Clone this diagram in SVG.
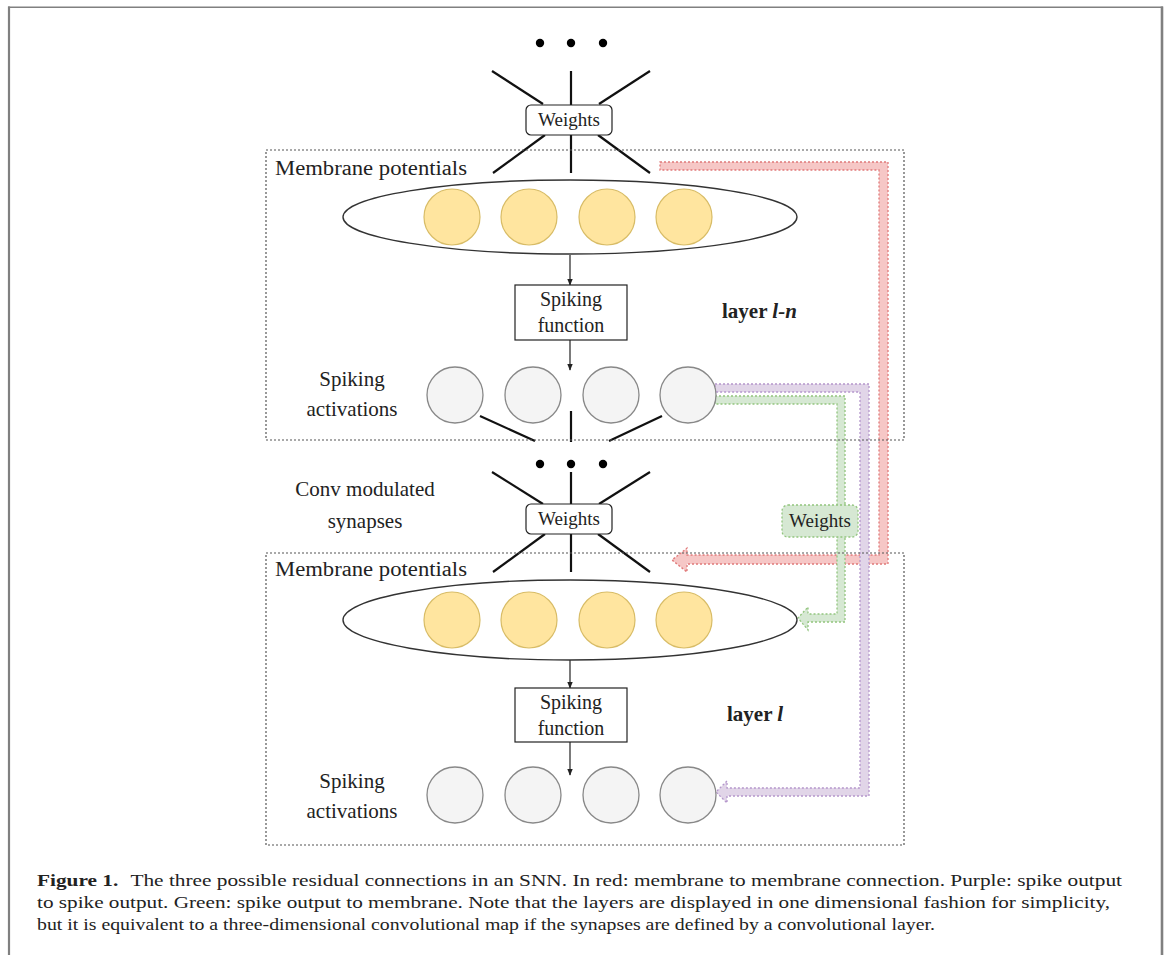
<svg xmlns="http://www.w3.org/2000/svg" width="1165" height="955" viewBox="0 0 1165 955">
<style>
.t{font-family:"Liberation Serif","Times New Roman",serif;fill:#222}
.ln{stroke:#111;stroke-width:2.2;fill:none}
.lay{fill:none;stroke:#555;stroke-width:1.2;stroke-dasharray:2 2}
.ell{fill:#fff;stroke:#333;stroke-width:1.4}
.mem{fill:#ffe59f;stroke:#d8bc66;stroke-width:1.2}
.spk{fill:#f4f4f4;stroke:#888;stroke-width:1.3}
.box{fill:#fff;stroke:#222;stroke-width:1.2}
.dot{fill:#000}
.ar{stroke:#222;stroke-width:1.2;fill:none;marker-end:url(#ah)}
.red{fill:#f6c7c6;stroke:#e07a7a;stroke-width:1.3;stroke-dasharray:2 2}
.pur{fill:#e1d5e8;stroke:#b597cc;stroke-width:1.3;stroke-dasharray:2 2}
.grn{fill:#d6e8d3;stroke:#92c57e;stroke-width:1.3;stroke-dasharray:2 2}
.frame{stroke:#808080;fill:none}
</style>
<defs>
<marker id="ah" viewBox="0 0 10 10" refX="9" refY="5" markerWidth="7" markerHeight="7" orient="auto" markerUnits="userSpaceOnUse">
<path d="M0,1 L10,5 L0,9 Z" fill="#222"/>
</marker>
</defs>
<rect width="1165" height="955" fill="#fff"/>
<g id="frame">
<line class="frame" x1="8" y1="7.3" x2="1163" y2="7.3" stroke-width="1.6"/>
<line class="frame" x1="9" y1="6.5" x2="9" y2="955" stroke-width="2.2"/>
<line class="frame" x1="1162" y1="6.5" x2="1162" y2="955" stroke-width="2.6"/>
</g>
<g id="connectors">
<polygon class="red" points="660,162 888,162 888,564 687,564 687,572 672,560 687,548 687,555 879,555 879,170 660,170"/>
<polygon class="pur" points="715,384 869,384 869,796 727,796 727,803 716,792 727,781 727,788 860,788 860,392 715,392"/>
<polygon class="grn" points="715,396 845,396 845,622 808,622 808,630 798,618 808,607 808,614 837,614 837,404 715,404"/>
<g id="top-synapses">
<line class="ln" x1="492" y1="71" x2="543" y2="104"/>
<line class="ln" x1="571" y1="71" x2="571" y2="105"/>
<line class="ln" x1="650" y1="71" x2="599" y2="104"/>
<line class="ln" x1="545" y1="135" x2="493" y2="173"/>
<line class="ln" x1="571" y1="135" x2="571" y2="173"/>
<line class="ln" x1="598" y1="135" x2="650" y2="173"/>
</g>
<g id="mid-synapses-out">
<line class="ln" x1="480" y1="416" x2="535" y2="441"/>
<line class="ln" x1="571" y1="411" x2="571" y2="442"/>
<line class="ln" x1="662" y1="416" x2="609" y2="441"/>
</g>
<g id="mid-synapses">
<line class="ln" x1="492" y1="472" x2="543" y2="504"/>
<line class="ln" x1="571" y1="472" x2="571" y2="504"/>
<line class="ln" x1="650" y1="472" x2="599" y2="504"/>
<line class="ln" x1="545" y1="534" x2="493" y2="572"/>
<line class="ln" x1="571" y1="534" x2="571" y2="572"/>
<line class="ln" x1="598" y1="534" x2="650" y2="572"/>
</g>
<line class="ar" x1="570" y1="255" x2="570" y2="285"/>
<line class="ar" x1="570" y1="340" x2="570" y2="370"/>
<line class="ar" x1="570" y1="660" x2="570" y2="688"/>
<line class="ar" x1="570" y1="742" x2="570" y2="775"/>
</g>
<g id="layer-ln">
<rect class="lay" x="266" y="150" width="638" height="290"/>
<text class="t" x="275" y="175" font-size="20.5" textLength="192" lengthAdjust="spacingAndGlyphs">Membrane potentials</text>
<ellipse class="ell" cx="570" cy="217" rx="227" ry="37"/>
<circle class="mem" cx="452" cy="217" r="28"/>
<circle class="mem" cx="529" cy="217" r="28"/>
<circle class="mem" cx="607" cy="217" r="28"/>
<circle class="mem" cx="684" cy="217" r="28"/>
<text class="t" x="722" y="318" font-size="21" font-weight="bold">layer <tspan font-style="italic">l-n</tspan></text>
<text class="t" x="352" y="386" font-size="21" text-anchor="middle">Spiking</text>
<text class="t" x="352" y="416" font-size="21" text-anchor="middle">activations</text>
<circle class="spk" cx="455" cy="395" r="28"/>
<circle class="spk" cx="533" cy="395" r="28"/>
<circle class="spk" cx="611" cy="395" r="28"/>
<circle class="spk" cx="688" cy="395" r="28"/>
</g>
<g id="spiking-fn-1">
<rect class="box" x="515" y="285" width="112" height="55"/>
<text class="t" x="571" y="306" font-size="20" text-anchor="middle">Spiking</text>
<text class="t" x="571" y="332" font-size="20" text-anchor="middle">function</text>
</g>
<g id="dots-top">
<circle class="dot" cx="540" cy="43" r="4.2"/>
<circle class="dot" cx="571" cy="43" r="4.2"/>
<circle class="dot" cx="603" cy="43" r="4.2"/>
</g>
<g id="weights-1">
<rect class="box" x="526" y="105" width="86" height="30" rx="5"/>
<text class="t" x="569" y="126" font-size="19" text-anchor="middle">Weights</text>
</g>
<g id="dots-mid">
<circle class="dot" cx="540" cy="464" r="4.2"/>
<circle class="dot" cx="571" cy="464" r="4.2"/>
<circle class="dot" cx="603" cy="464" r="4.2"/>
</g>
<g id="conv-label">
<text class="t" x="365" y="496" font-size="21" text-anchor="middle">Conv modulated</text>
<text class="t" x="365" y="528" font-size="21" text-anchor="middle">synapses</text>
</g>
<g id="weights-2">
<rect class="box" x="526" y="504" width="86" height="30" rx="5"/>
<text class="t" x="569" y="525" font-size="19" text-anchor="middle">Weights</text>
</g>
<g id="weights-green">
<rect class="grn" x="782" y="505" width="76" height="32" rx="6"/>
<text class="t" x="820" y="527" font-size="19" text-anchor="middle">Weights</text>
</g>
<g id="layer-l">
<rect class="lay" x="266" y="553" width="638" height="292"/>
<text class="t" x="275" y="576" font-size="20.5" textLength="192" lengthAdjust="spacingAndGlyphs">Membrane potentials</text>
<ellipse class="ell" cx="570" cy="620" rx="227" ry="40"/>
<circle class="mem" cx="452" cy="620" r="28"/>
<circle class="mem" cx="529" cy="620" r="28"/>
<circle class="mem" cx="607" cy="620" r="28"/>
<circle class="mem" cx="684" cy="620" r="28"/>
<text class="t" x="727" y="721" font-size="21" font-weight="bold">layer <tspan font-style="italic">l</tspan></text>
<text class="t" x="352" y="788" font-size="21" text-anchor="middle">Spiking</text>
<text class="t" x="352" y="818" font-size="21" text-anchor="middle">activations</text>
<circle class="spk" cx="455" cy="795" r="28"/>
<circle class="spk" cx="533" cy="795" r="28"/>
<circle class="spk" cx="611" cy="795" r="28"/>
<circle class="spk" cx="688" cy="795" r="28"/>
</g>
<g id="spiking-fn-2">
<rect class="box" x="515" y="688" width="112" height="54"/>
<text class="t" x="571" y="709" font-size="20" text-anchor="middle">Spiking</text>
<text class="t" x="571" y="735" font-size="20" text-anchor="middle">function</text>
</g>
<g id="caption">
<text class="t" x="37" y="886" font-size="17.5" textLength="1085" lengthAdjust="spacingAndGlyphs"><tspan font-weight="bold">Figure 1.</tspan><tspan dx="10">The three possible residual connections in an SNN. In red: membrane to membrane connection. Purple: spike output</tspan></text>
<text class="t" x="37" y="908" font-size="17.5" textLength="1073" lengthAdjust="spacingAndGlyphs">to spike output. Green: spike output to membrane. Note that the layers are displayed in one dimensional fashion for simplicity,</text>
<text class="t" x="37" y="930" font-size="17.5" textLength="898" lengthAdjust="spacingAndGlyphs">but it is equivalent to a three-dimensional convolutional map if the synapses are defined by a convolutional layer.</text>
</g>
</svg>
